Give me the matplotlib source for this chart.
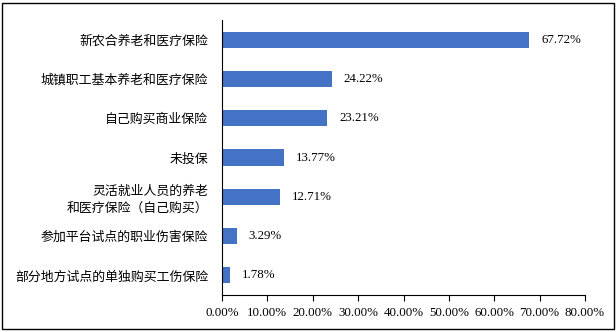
import matplotlib

matplotlib.use("Agg")
import matplotlib.pyplot as plt  # noqa: E402
from matplotlib.patches import Rectangle  # noqa: E402
from matplotlib.ticker import FuncFormatter, MultipleLocator  # noqa: E402

CATS = ["新农合养老和医疗保险", "城镇职工基本养老和医疗保险", "自己购买商业保险", "未投保",
        "灵活就业人员的养老\n和医疗保险（自己购买）", "参加平台试点的职业伤害保险",
        "部分地方试点的单独购买工伤保险"]
VALS = [67.72, 24.22, 23.21, 13.77, 12.71, 3.29, 1.78]

CJK = ["Noto Sans CJK SC", "DejaVu Sans"]
SERIF = ["Liberation Serif", "DejaVu Serif"]

fig = plt.figure(figsize=(6.16, 3.32), dpi=100)
fig.patches.append(Rectangle((0.004, 0.008), 0.992, 0.984, transform=fig.transFigure,
                             fill=False, edgecolor="black", lw=1.0))
ax = fig.add_axes([222 / 616, 1 - 295 / 332, (585 - 222) / 616, (295 - 20) / 332])

y = list(range(len(CATS)))
ax.barh(y, VALS, height=0.41, color="#4472C4")
ax.set_ylim(len(CATS) - 0.5, -0.5)
ax.set_xlim(0, 80)
ax.set_yticks(y)
ax.set_yticklabels(CATS, family=CJK, fontsize=9.3, linespacing=1.35)
ax.tick_params(axis="y", length=0, pad=10)
ax.xaxis.set_major_locator(MultipleLocator(10))
ax.xaxis.set_major_formatter(FuncFormatter(lambda v, p: f"{v:.2f}%"))
ax.tick_params(axis="x", length=4, pad=5, labelsize=9.3)
for lab in ax.get_xticklabels():
    lab.set_family(SERIF)
for s in ("top", "right"):
    ax.spines[s].set_visible(False)
ax.spines["left"].set_linewidth(0.8)
ax.spines["bottom"].set_linewidth(0.8)

for yi, v in zip(y, VALS):
    ax.text(v + 2.6, yi, f"{v:.2f}%", va="center", ha="left", fontsize=9.3, family=SERIF)

fig.savefig("out.png", dpi=100, facecolor="white")
